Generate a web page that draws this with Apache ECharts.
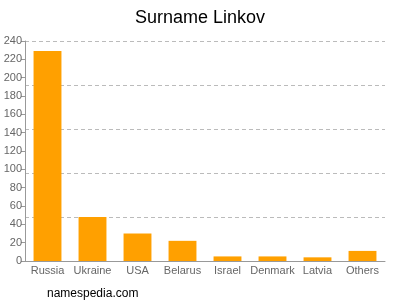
<!DOCTYPE html>
<html><head><meta charset="utf-8">
<script src="https://cdn.jsdelivr.net/npm/echarts@6/dist/echarts.min.js"></script>
<style>html,body{margin:0;padding:0;background:#fff}#c{width:400px;height:300px}</style>
</head><body><div id="c"></div>
<script>
var categories = ["Russia","Ukraine","USA","Belarus","Israel","Denmark","Latvia","Others"];
var values = [229, 48, 30, 22, 5, 5, 4, 11];
var chart = echarts.init(document.getElementById('c'), null, {renderer:'canvas'});
chart.setOption({
  animation: false,
  title: [{text:'Surname Linkov', left:'center', top:4, textStyle:{fontFamily:'Liberation Sans, Arial', fontSize:18, fontWeight:'normal', color:'#000'}},
          {text:'namespedia.com', left:42, top:283, textStyle:{fontFamily:'Liberation Sans, Arial', fontSize:12, fontWeight:'normal', color:'#000'}}],
  grid: {left:25, right:15, top:41, bottom:39, containLabel:false},
  xAxis: {type:'category', data:categories,
    axisLine:{lineStyle:{color:'#999'}},
    axisTick:{alignWithLabel:true, length:4, lineStyle:{color:'#999'}},
    axisLabel:{color:'#666', fontSize:11, fontFamily:'Liberation Sans, Arial', margin:4, interval:0}},
  yAxis: [{type:'value', min:0, max:240, interval:20,
    axisLine:{show:true, lineStyle:{color:'#999'}},
    axisTick:{show:true, length:4, lineStyle:{color:'#999'}},
    axisLabel:{color:'#666', fontSize:11, fontFamily:'Liberation Sans, Arial', margin:3},
    splitLine:{show:false}},
    {type:'value', min:0, max:240, interval:48, position:'left',
    axisLine:{show:false}, axisTick:{show:false}, axisLabel:{show:false},
    splitLine:{show:true, lineStyle:{color:'#bbb', type:[4,3]}}}],
  series: [{type:'bar', data:values, barWidth:'62%', itemStyle:{color:'#ffa000'}, yAxisIndex:0}]
});
</script></body></html>
